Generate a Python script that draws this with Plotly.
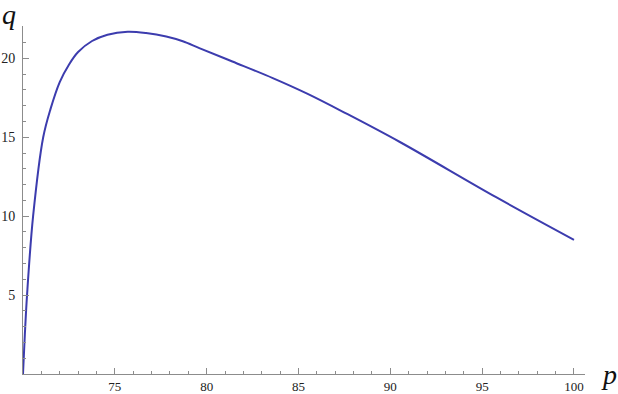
import plotly.graph_objects as go

p_vals = [70, 70.1, 70.22, 70.55, 71.1, 71.5, 72.0, 72.5, 73.0, 73.76, 74.6, 75.7,
          76.7, 77.8, 78.7, 79.6, 81.4, 83.6, 85.5, 87.53, 90.52, 95.76, 100]
q_vals = [0, 2.5, 5.0, 10.0, 15.0, 16.8, 18.5, 19.6, 20.4, 21.1, 21.5, 21.68,
          21.6, 21.38, 21.08, 20.65, 19.8, 18.75, 17.75, 16.55, 14.7, 11.2, 8.5]

x_ticks = [75, 80, 85, 90, 95, 100]
y_ticks = [5, 10, 15, 20]

axis_color = "#8c8c8c"
font_serif = "Liberation Serif"

fig = go.Figure()
fig.add_trace(go.Scatter(
    x=p_vals, y=q_vals, mode="lines",
    line=dict(color="#3c3cae", width=2, shape="spline", smoothing=1.0),
    cliponaxis=False, showlegend=False,
))

fig.update_layout(
    width=618, height=394,
    margin=dict(l=23, r=33, t=26, b=20),
    paper_bgcolor="white", plot_bgcolor="white",
    font=dict(family=font_serif, size=13, color="#222"),
    xaxis=dict(
        range=[70, 100.6], showgrid=False, zeroline=False, automargin=False,
        showline=True, linecolor=axis_color, linewidth=1,
        tickmode="array", tickvals=x_ticks, ticktext=[str(v) for v in x_ticks],
        ticks="inside", ticklen=6, tickcolor=axis_color, tickwidth=1,
        minor=dict(dtick=1, tick0=70, ticks="inside", ticklen=3, tickcolor=axis_color, showgrid=False),
        tickfont=dict(family=font_serif, size=13, color="#222"),
        ticklabelstandoff=0,
    ),
    yaxis=dict(
        range=[0, 22.05], showgrid=False, zeroline=False, automargin=False,
        showline=True, linecolor=axis_color, linewidth=1,
        tickmode="array", tickvals=y_ticks, ticktext=[str(v) for v in y_ticks],
        ticks="inside", ticklen=6, tickcolor=axis_color, tickwidth=1,
        minor=dict(dtick=1, tick0=0, ticks="inside", ticklen=3, tickcolor=axis_color, showgrid=False),
        tickfont=dict(family=font_serif, size=14, color="#222"),
        ticklabelstandoff=4,
    ),
    annotations=[
        dict(text="<i>q</i>", xref="paper", yref="paper", x=-23/562, y=1 + 29/348,
             xanchor="left", yanchor="top", showarrow=False,
             font=dict(family=font_serif, size=28, color="#111")),
        dict(text="<i>p</i>", xref="paper", yref="paper", x=1 + 14/562, y=0,
             xanchor="left", yanchor="middle", showarrow=False,
             font=dict(family=font_serif, size=28, color="#111")),
    ],
)

fig.write_html("out.html")
